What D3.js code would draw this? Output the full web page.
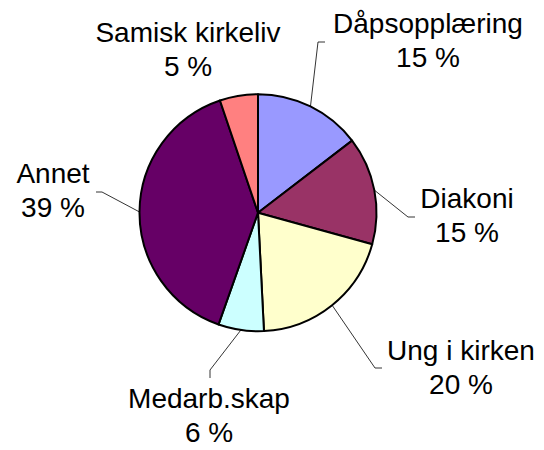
<!DOCTYPE html>
<html>
<head>
<meta charset="utf-8">
<script src="https://cdn.jsdelivr.net/npm/d3@7"></script>
<style>
  html, body { margin: 0; padding: 0; background: #fff; }
  svg { display: block; }
</style>
</head>
<body>
<div id="chart"></div>
<script>
// data
const categories = ["Dåpsopplæring", "Diakoni", "Ung i kirken", "Medarb.skap", "Annet", "Samisk kirkeliv"];
const shares = [14.6, 14.7, 19.9, 6.2, 39.4, 5.2];
const colors = ["#9999FF", "#993366", "#FFFFCC", "#CCFFFF", "#660066", "#FF8080"];

// label layout (text centre x, first baseline y, leader elbow + end)
const labelLayout = [
  { x: 428, y: 33, elbow: [318, 42], end: [325, 42] },
  { x: 467, y: 208, elbow: [408, 217], end: [415, 217] },
  { x: 461, y: 360, elbow: [375, 368], end: [382, 368] },
  { x: 209, y: 408, elbow: [210, 370], end: [210, 378] },
  { x: 53, y: 183, elbow: [102, 192], end: [96, 192] },
  { x: 188, y: 42, elbow: null, end: null }
];

const width = 544, height = 450;
const cx = 258, cy = 212.7, radius = 118.5;

const svg = d3.select("#chart").append("svg")
  .attr("width", width)
  .attr("height", height);

const g = svg.append("g")
  .attr("transform", "translate(" + cx + "," + cy + ")");

const pie = d3.pie().sort(null).value(d => d.value);
const arc = d3.arc().innerRadius(0).outerRadius(radius);

const data = categories.map((c, i) => ({ name: c, value: shares[i], color: colors[i], layout: labelLayout[i] }));
const arcs = pie(data);
const total = d3.sum(shares);

g.selectAll("path.slice")
  .data(arcs)
  .join("path")
  .attr("class", "slice")
  .attr("d", arc)
  .attr("fill", d => d.data.color)
  .attr("stroke", "#000")
  .attr("stroke-width", 2)
  .attr("stroke-linejoin", "round");

// leader lines
svg.append("g")
  .selectAll("polyline")
  .data(arcs.filter(d => d.data.layout.elbow))
  .join("polyline")
  .attr("fill", "none")
  .attr("stroke", "#000")
  .attr("stroke-width", 0.8)
  .attr("points", d => {
    const a = (d.startAngle + d.endAngle) / 2;
    const sx = cx + radius * Math.sin(a);
    const sy = cy - radius * Math.cos(a);
    const l = d.data.layout;
    return [[sx, sy], l.elbow, l.end].map(p => p.join(",")).join(" ");
  });

// labels
const labels = svg.append("g")
  .style("font-family", "Arial, 'Liberation Sans', sans-serif")
  .style("font-size", "28px")
  .attr("fill", "#000")
  .attr("text-anchor", "middle")
  .selectAll("text")
  .data(arcs)
  .join("text")
  .attr("x", d => d.data.layout.x)
  .attr("y", d => d.data.layout.y);

labels.append("tspan")
  .attr("x", d => d.data.layout.x)
  .text(d => d.data.name);

labels.append("tspan")
  .attr("x", d => d.data.layout.x)
  .attr("dy", 34)
  .text(d => Math.round(d.data.value / total * 100) + " %");
</script>
</body>
</html>
